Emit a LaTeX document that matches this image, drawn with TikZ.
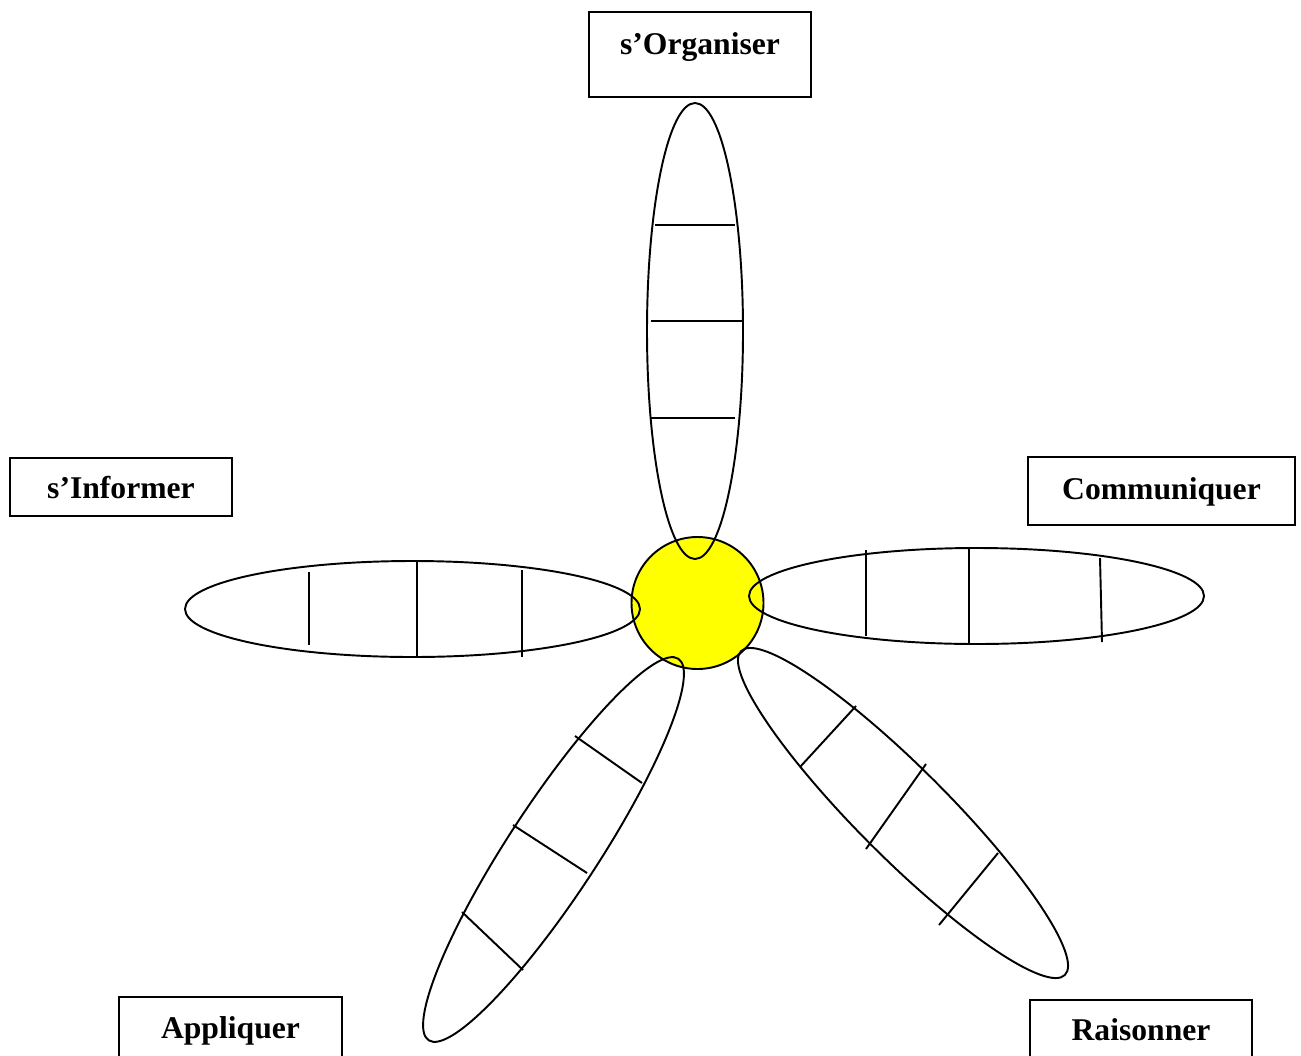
\documentclass[tikz,border=0pt]{standalone}
\usepackage{fontspec}
\setmainfont{Liberation Serif}
\definecolor{jaune}{RGB}{255,255,0}
\begin{document}
\begin{tikzpicture}[line width=1.1pt,
  etiquette/.style={draw, inner sep=0pt, anchor=base, font=\bfseries\fontsize{18}{22}\selectfont}]
\useasboundingbox (0,0) rectangle (26.02,-21.1);

% coeur
\draw[fill=jaune] (13.95,-12.06) circle (1.32);

% petales
\draw (13.9,-6.62) ellipse [x radius=0.96, y radius=4.56];
\draw (8.25,-12.18) ellipse [x radius=4.55, y radius=0.96];
\draw (19.53,-11.92) ellipse [x radius=4.55, y radius=0.96];
\draw[rotate around={56.8:(11.07,-16.99)}] (11.07,-16.99) ellipse [x radius=4.56, y radius=0.9];
\draw[rotate around={-45:(18.06,-16.26)}] (18.06,-16.26) ellipse [x radius=4.58, y radius=0.9];

% traits
\draw (13.1,-4.5)--(14.7,-4.5);
\draw (13.02,-6.42)--(14.84,-6.42);
\draw (13.02,-8.36)--(14.7,-8.36);

\draw (6.18,-11.44)--(6.18,-12.9);
\draw (8.34,-11.24)--(8.34,-13.14);
\draw (10.44,-11.4)--(10.44,-13.14);

\draw (17.32,-11.0)--(17.32,-12.72);
\draw (19.38,-10.96)--(19.38,-12.86);
\draw (22.0,-11.16)--(22.04,-12.84);

\draw (11.5,-14.72)--(12.84,-15.66);
\draw (10.26,-16.5)--(11.74,-17.46);
\draw (9.24,-18.24)--(10.46,-19.4);

\draw (16.0,-15.34)--(17.12,-14.12);
\draw (17.32,-16.98)--(18.52,-15.28);
\draw (18.78,-18.5)--(19.96,-17.06);

% etiquettes
\node[etiquette, minimum width=4.44cm, text height=0.84cm, text depth=0.86cm] (O) at (14.0,-1.08) {s’Organiser};
\node[etiquette, minimum width=4.44cm, text height=0.8cm, text depth=0.36cm] (I) at (2.42,-9.96) {s’Informer};
\node[etiquette, minimum width=5.34cm, text height=0.84cm, text depth=0.52cm] (C) at (23.23,-9.98) {Communiquer};
\node[etiquette, minimum width=4.46cm, text height=0.82cm, text depth=0.6cm] (A) at (4.61,-20.76) {Appliquer};
\node[etiquette, minimum width=4.44cm, text height=0.8cm, text depth=0.6cm] (R) at (22.82,-20.8) {Raisonner};
\end{tikzpicture}
\end{document}
